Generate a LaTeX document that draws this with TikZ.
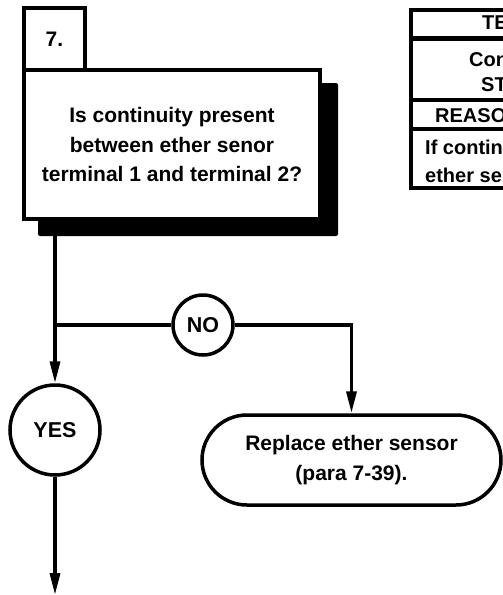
\documentclass[tikz,border=0pt]{standalone}
\usepackage{fontspec}
\setmainfont{Liberation Sans}
\usetikzlibrary{arrows.meta}
\tikzset{
  ln/.style={line width=3.5pt},
  arr/.style={ln,-{Triangle[length=22pt,width=10pt]}},
  boxst/.style={draw,line width=3.5pt,fill=white,inner sep=0pt,align=center,font=\fontsize{21}{29.5}\selectfont\bfseries},
  circst/.style={draw,circle,line width=3.5pt,fill=white,inner sep=0pt,font=\fontsize{21.5}{24}\selectfont\bfseries},
  tabtxt/.style={anchor=base west,inner sep=0pt,font=\fontsize{20}{22}\selectfont\bfseries}
}
\begin{document}
\begin{tikzpicture}[x=1pt,y=-1pt]
\useasboundingbox (0,0) rectangle (503,595);
% number box
\node[boxst,minimum width=61pt,minimum height=62pt] (num) at (54.5,39) {7.};
% shadow and question box
\node[fill=black,rounded corners=2pt,minimum width=300pt,minimum height=153pt,inner sep=0pt] (shadow) at (188,159.5) {};
\node[boxst,minimum width=296pt,minimum height=149pt] (q) at (172,144.5) {Is continuity present\\between ether senor\\terminal 1 and terminal 2?};
% decision circles
\node[circst,minimum size=60pt] (no) at (203,325) {NO};
\node[circst,minimum size=90pt] (yes) at (55,430) {YES};
% action box
\node[boxst,rounded corners=45pt,minimum width=299pt,minimum height=90pt] (rep) at (351.5,460) {Replace ether sensor\\(para 7-39).};
\coordinate (j) at (55,325);
\coordinate (bot) at (55,595);
% connectors
\draw[arr] (shadow.south -| yes.north) -- (yes.north);
\draw[ln] (j) -- (no.west);
\draw[arr] (no.east) -| (rep.north);
\draw[arr] (yes.south) -- (bot);
% table (cut at right edge)
\begin{scope}
\clip (0,0) rectangle (503,595);
\draw[line width=4pt] (411,10) rectangle (560,188);
\draw[line width=5.5pt] (411,38.5) -- (560,38.5);
\draw[line width=4pt] (411,100) -- (560,100);
\draw[line width=4pt] (411,129) -- (560,129);
\node[tabtxt] (t1) at (482,29) {TE};
\node[tabtxt] (t2) at (469,66) {Con};
\node[tabtxt] (t3) at (481,91) {ST};
\node[tabtxt] (t4) at (435,122) {REASO};
\node[tabtxt] (t5) at (425,154) {If contin};
\node[tabtxt] (t6) at (425,182) {ether se};
\end{scope}
\end{tikzpicture}
\end{document}
